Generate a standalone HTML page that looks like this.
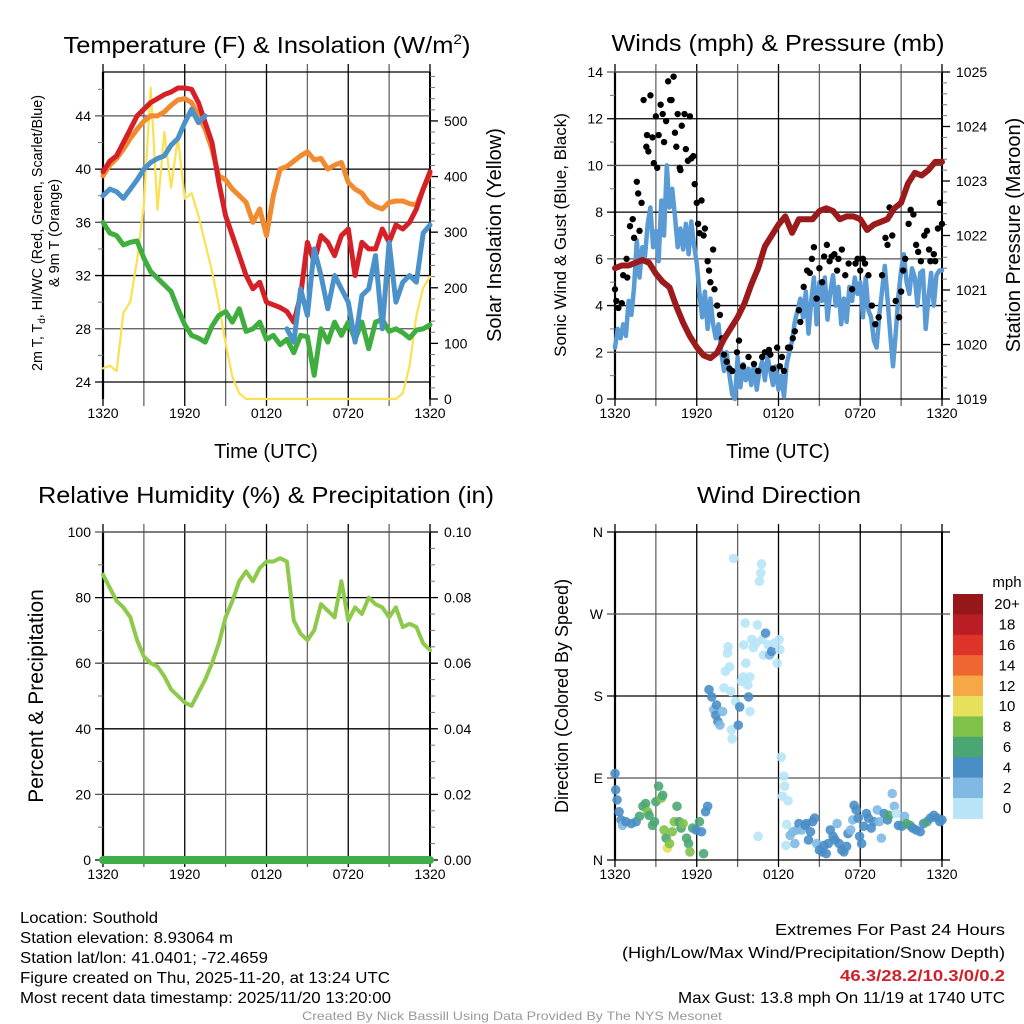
<!DOCTYPE html>
<html><head><meta charset="utf-8"><style>
html,body{margin:0;padding:0;background:#fff;width:1024px;height:1024px;overflow:hidden}
svg{display:block;font-family:"Liberation Sans",sans-serif}
</style></head><body>
<svg id="c" width="1024" height="1024" viewBox="0 0 1024 1024">
<g id="texts" fill="#000">
<text x="267" y="53" font-size="23" text-anchor="middle" textLength="407" lengthAdjust="spacingAndGlyphs">Temperature (F) &amp; Insolation (W/m<tspan font-size="14" dy="-9">2</tspan><tspan dy="9">)</tspan></text>
<text x="778" y="45" font-size="23" text-anchor="middle" dominant-baseline="middle" textLength="333" lengthAdjust="spacingAndGlyphs">Winds (mph) &amp; Pressure (mb)</text>
<text x="266" y="497" font-size="23" text-anchor="middle" dominant-baseline="middle" textLength="456" lengthAdjust="spacingAndGlyphs">Relative Humidity (%) &amp; Precipitation (in)</text>
<text x="779" y="497" font-size="23" text-anchor="middle" dominant-baseline="middle" textLength="164" lengthAdjust="spacingAndGlyphs">Wind Direction</text>
<text x="266" y="458" font-size="20" text-anchor="middle">Time (UTC)</text>
<text x="778" y="458" font-size="20" text-anchor="middle">Time (UTC)</text>
<text transform="translate(42,233) rotate(-90)" font-size="14.5" text-anchor="middle" textLength="276" lengthAdjust="spacingAndGlyphs">2m T, T<tspan font-size="10" dy="3">d</tspan><tspan dy="-3">, HI/WC (Red, Green, Scarlet/Blue)</tspan></text>
<text transform="translate(59,233) rotate(-90)" font-size="14.5" text-anchor="middle">&amp; 9m T (Orange)</text>
<text transform="translate(501,235) rotate(-90)" font-size="20" text-anchor="middle">Solar Insolation (Yellow)</text>
<text transform="translate(566,235) rotate(-90)" font-size="17" text-anchor="middle">Sonic Wind &amp; Gust (Blue, Black)</text>
<text transform="translate(1020,235) rotate(-90)" font-size="20" text-anchor="middle">Station Pressure (Maroon)</text>
<text transform="translate(43,696) rotate(-90)" font-size="21" text-anchor="middle">Percent &amp; Precipitation</text>
<text transform="translate(568,696) rotate(-90)" font-size="18" text-anchor="middle">Direction (Colored By Speed)</text>
<text x="20" y="923" font-size="16" textLength="138" lengthAdjust="spacingAndGlyphs">Location: Southold</text>
<text x="20" y="943" font-size="16" textLength="213" lengthAdjust="spacingAndGlyphs">Station elevation: 8.93064 m</text>
<text x="20" y="963" font-size="16" textLength="248" lengthAdjust="spacingAndGlyphs">Station lat/lon: 41.0401; -72.4659</text>
<text x="20" y="983" font-size="16" textLength="370" lengthAdjust="spacingAndGlyphs">Figure created on Thu, 2025-11-20, at 13:24 UTC</text>
<text x="20" y="1003" font-size="16" textLength="371" lengthAdjust="spacingAndGlyphs">Most recent data timestamp: 2025/11/20 13:20:00</text>
<text x="1005" y="935" font-size="16" text-anchor="end" textLength="230" lengthAdjust="spacingAndGlyphs">Extremes For Past 24 Hours</text>
<text x="1005" y="958" font-size="16" text-anchor="end" textLength="383" lengthAdjust="spacingAndGlyphs">(High/Low/Max Wind/Precipitation/Snow Depth)</text>
<text x="1005" y="981" font-size="16" font-weight="bold" fill="#d0202a" text-anchor="end" textLength="165" lengthAdjust="spacingAndGlyphs">46.3/28.2/10.3/0/0.2</text>
<text x="1005" y="1003" font-size="16" text-anchor="end" textLength="327" lengthAdjust="spacingAndGlyphs">Max Gust: 13.8 mph On 11/19 at 1740 UTC</text>
<text x="512" y="1020" font-size="12" fill="#999" text-anchor="middle" textLength="420" lengthAdjust="spacingAndGlyphs">Created By Nick Bassill Using Data Provided By The NYS Mesonet</text>
</g>
</svg>
<script>
// ---- data ----
const halfHours = Array.from({length:49},(_, i)=>i*0.5);
const xTickLabels = ["1320","1920","0120","0720","1320"];
const tempRed = [39.8,40.6,41,42,43,44,44.5,45,45.3,45.6,45.8,46.1,46.1,46,45,43.5,42,39,36.5,35,33.5,32,31,31.5,30,29.8,29.6,29.3,28.5,30.5,34.5,33,35,34.5,33.5,35,35.5,32,34.5,34,34,35.5,34.5,35.8,35.5,36,37,38.5,39.8];
const tempOrange = [39.5,40.3,40.8,41.5,42.3,43,43.6,44,44,44.3,44.8,45.2,45.3,45,44,43,41.5,39.5,39.2,38.5,38,37.5,36,37,35,38,40,40.2,40.6,41,41.3,40.7,40.8,40,40.3,40.5,39,38.5,38.2,37.5,37.2,37,37.5,37.6,37.6,37.4,37.3,38.5,39.6];
const tempBlue = [38,38.5,38.3,37.8,38.5,39.2,40,40.5,40.8,41,41.8,42.3,43.5,44.5,43.5,44,null,null,null,null,null,null,null,null,null,null,null,28,27,31,29,34,32,29.5,32,31,30,27,30.5,31,33.5,28,34.5,30,31.5,32,31.5,35.2,35.8];
const tempGreen = [36,35.2,35,34.3,34.5,34.6,33.3,32.3,31.8,31.3,30.8,29.5,28.3,27.5,27.3,27,28.2,29,29.3,28.5,29.5,27.8,28,28.5,27.2,27.5,26.8,27.2,26.2,27.5,27.4,24.5,28,27,28.5,27.5,28.5,27.2,28.5,26.5,28.5,28.7,27.8,28,27.7,27.3,27.9,28,28.3];
const solar = [55,60,50,155,175,250,350,560,340,480,380,470,360,370,330,280,230,170,100,40,10,0,0,0,0,0,0,0,0,0,0,0,0,0,0,0,0,0,0,0,0,0,0,0,10,60,150,200,220];
const tempTicks = [24,28,32,36,40,44];
const solarTicks = [0,100,200,300,400,500];

const windTimes = [0,0.2,0.4,0.6,0.8,1,1.2,1.4,1.6,1.8,2,2.2,2.4,2.6,2.8,3,3.2,3.4,3.6,3.8,4,4.2,4.4,4.6,4.8,5,5.2,5.4,5.6,5.8,6,6.2,6.4,6.6,6.8,7,7.2,7.4,7.6,7.8,8,8.2,8.4,8.6,8.8,9,9.2,9.4,9.6,9.8,10,10.2,10.4,10.6,10.8,11,11.2,11.4,11.6,11.8,12,12.2,12.4,12.6,12.8,13,13.2,13.4,13.6,13.8,14,14.2,14.4,14.6,14.8,15,15.2,15.4,15.6,15.8,16,16.2,16.4,16.6,16.8,17,17.2,17.4,17.6,17.8,18,18.2,18.4,18.6,18.8,19,19.2,19.4,19.6,19.8,20,20.2,20.4,20.6,20.8,21,21.2,21.4,21.6,21.8,22,22.2,22.4,22.6,22.8,23,23.2,23.4,23.6,23.8,24];
const windSpeed = [2.2,3,2.6,3.2,2.7,4.2,3.6,4.8,6.8,5.2,6.5,6.1,7.5,8.2,6.5,7.2,5.9,8.5,7,10,8.2,9,7.8,6.5,7.3,6.4,7.5,6.2,7.6,6.6,5.8,4.5,3.5,4.6,3,4.3,3.2,2.6,3.2,2,1.2,2,1,0.2,0,1.8,0.5,1.5,0.8,1.3,0.6,1.5,0.4,1.2,1.6,0.8,1.8,1.2,0.6,1.4,0.4,1,0.1,1.5,2,2.5,3.3,3.8,4.3,3.5,4.6,2.8,4.2,5.2,3.2,5,4.2,5.2,3.4,4.6,5.3,4,4.8,3.2,4.3,3.3,4.8,4.2,5.2,4.5,5,3.5,5.2,3.8,3.5,2.5,2.2,3.6,4.6,5.7,4.3,2.8,1.4,2.8,4.4,5.5,6.2,5,4.5,5.6,5.2,4,5.4,5.5,3,4.3,5.4,4,5.3,5.5,5.5];
const gustTimes = [0,0.1,0.25,0.5,0.6,0.85,0.9,1.1,1.3,1.4,1.6,1.7,1.8,1.95,2.1,2.3,2.35,2.45,2.6,2.75,2.85,3,3.1,3.2,3.35,3.5,3.6,3.75,3.9,4.05,4.15,4.3,4.4,4.5,4.6,4.75,4.8,4.9,5.1,5.2,5.35,5.5,5.6,5.75,5.85,6,6.1,6.2,6.35,6.5,6.6,6.8,6.9,7,7.2,7.3,7.5,7.7,7.85,8,8.2,8.4,8.6,8.95,9.1,9.4,9.8,10.2,10.5,10.8,11,11.3,11.4,11.6,11.9,12.1,12.25,12.4,12.7,12.85,13.05,13.2,13.5,13.6,13.85,14.1,14.3,14.45,14.6,14.8,15,15.2,15.35,15.55,15.75,15.9,16.1,16.3,16.4,16.65,16.9,17.15,17.4,17.65,17.8,18,18.2,18.35,18.6,18.85,19.1,19.35,19.6,19.85,20,20.15,20.35,20.6,20.85,21,21.15,21.3,21.55,21.7,21.9,22.1,22.25,22.45,22.7,22.9,23.05,23.15,23.4,23.5,23.7,23.85,24];
const gustSpeed = [4.7,4.2,3.9,4.1,5.3,6,5.2,7.4,7.7,6.9,9.3,8.8,7.2,8.4,12.8,10.8,11.3,10.6,13,11.2,10.1,12.1,9.9,11.3,12.6,12.2,11,11.9,13.6,12.8,12.8,13.8,11.4,10.8,12.2,9.9,9.8,11.7,12.2,10.7,10.2,12.1,10.3,10.4,9.2,8.4,7.5,7.1,8.5,7,7.3,5.9,5.5,5,6.4,4.7,4,3.6,2.6,1.9,1.6,1.3,1.2,2,2.5,1.4,1.8,1.5,1.2,1.8,2,2.1,1.9,1.3,2.2,1.4,1.8,1.2,2.2,2.2,2.6,2.9,3.8,3.3,4.8,5.5,5.4,6,6.5,4.3,5.6,5,6.1,6.6,5.9,6.1,6.2,5.5,6,6.4,5.3,5.8,4.7,5.8,6,5.5,6,5.8,5.3,4,3.2,3.5,5.3,6.9,6.6,8.2,7,4.2,3.5,4.6,5.5,6,7.5,8.1,7.9,6.6,6.3,5.9,7,7.2,6.4,5.9,6.2,5.9,7.3,8.4,7.5];
const pressure = [1021.4,1021.45,1021.45,1021.5,1021.55,1021.5,1021.3,1021.15,1021.05,1020.7,1020.4,1020.15,1019.95,1019.8,1019.75,1019.85,1020.1,1020.3,1020.5,1020.75,1021.1,1021.4,1021.8,1022,1022.2,1022.35,1022.05,1022.3,1022.3,1022.3,1022.45,1022.5,1022.45,1022.3,1022.35,1022.35,1022.3,1022.1,1022.2,1022.25,1022.3,1022.5,1022.6,1022.95,1023.15,1023.1,1023.2,1023.35,1023.35];
const windTicks = [0,2,4,6,8,10,12,14];
const pressureTicks = [1019,1020,1021,1022,1023,1024,1025];

const rh = [87,83,79,77,74,67,62,60,59,56,52,50,48,47,51,55,60,66,74,79,85,88,85,89,91,91,92,91,73,69,67,70,78,76,74,85,73,77,75,80,78,77,74,77,71,72,71,66,64];
const precip = [0,0,0,0,0,0,0,0,0,0,0,0,0,0,0,0,0,0,0,0,0,0,0,0,0,0,0,0,0,0,0,0,0,0,0,0,0,0,0,0,0,0,0,0,0,0,0,0,0];
const rhTicks = [0,20,40,60,80,100];
const precipTicks = ["0.00","0.02","0.04","0.06","0.08","0.10"];

const dirTimes = [0,0.05,0.15,0.3,0.45,0.55,0.8,1.2,1.55,1.8,2.05,2.25,2.4,2.5,2.75,2.9,3,3.2,3.4,3.5,3.6,3.75,3.85,4,4.2,4.35,4.55,4.7,4.85,5,5.25,5.4,5.5,5.7,5.95,6.2,6.35,6.5,6.65,6.8,6.9,7.1,7.25,7.4,7.45,7.55,7.7,7.9,8,8.1,8.25,8.3,8.4,8.5,8.55,8.6,8.7,8.85,9.05,9.15,9.3,9.4,9.45,9.55,9.6,9.75,9.8,9.9,9.9,10.05,10.15,10.35,10.45,10.5,10.6,10.7,10.75,10.8,10.9,11.05,11.25,11.35,11.5,11.7,11.9,12.05,12.1,12.2,12.4,12.45,12.3,12.7,12.6,12.55,12.85,13.05,13.2,13.35,13.5,13.7,13.95,14.05,14.2,14.35,14.5,14.65,14.8,15,15.2,15.35,15.5,15.65,15.8,16,16.15,16.3,16.45,16.65,16.8,17,17.1,17.3,17.45,17.55,17.7,17.85,17.95,18.1,18.25,18.45,18.6,18.8,19,19.25,19.4,19.55,19.75,20,20.1,20.35,20.5,20.65,20.8,21.05,21.25,21.4,21.65,21.85,22.1,22.4,22.65,22.9,23.15,23.4,23.65,23.85,24];
const dirDegrees = [95,77,66,53,44,38,42,40,42,48,59,62,53,49,38,42,64,81,68,71,33,24,13,18,31,42,59,42,35,40,24,18,9,35,33,42,31,7,53,59,187,179,165,159,170,152,148,163,189,207,227,234,212,185,143,133,331,174,148,168,196,201,236,260,216,192,179,201,163,242,233,238,258,26,306,315,325,242,225,249,236,225,229,238,216,242,231,113,92,81,70,65,39,16,27,31,18,33,40,33,38,40,22,31,42,46,18,11,9,16,7,18,33,26,22,40,18,11,9,15,29,33,44,60,55,46,26,18,37,51,46,35,42,55,42,24,51,44,49,73,59,51,38,37,48,40,38,35,33,31,40,42,46,49,46,42,44];
const dirSpeeds = [5,5,5,5,5,3,5,5,5,7,7,7,9,7,7,7,7,7,9,7,9,7,11,9,9,9,7,7,7,9,7,7,9,7,5,7,5,7,5,5,5,5,3,5,5,5,3,3,1,1,1,1,1,1,1,1,1,1,5,5,1,1,1,1,1,1,5,1,1,1,1,1,1,1,1,1,1,1,1,5,1,3,5,1,1,1,1,1,1,1,1,1,1,1,3,3,3,3,5,3,5,5,5,5,5,5,3,5,5,5,5,5,5,5,5,3,5,5,5,5,5,3,3,5,5,5,5,5,5,5,5,5,5,3,3,3,5,5,7,3,3,1,5,5,3,7,7,5,5,5,5,7,5,5,5,5,5];
const dirTickLabels = ["N","E","S","W","N"];
const speedBinLabels = ["0","2","4","6","8","10","12","14","16","18","20+"];
const speedBinColors = ["#b7e4f7","#7fb9e4","#4a8ec8","#4aa774","#7fc24a","#e6e05a","#f5a847","#ef6630","#de3329","#bb1d24","#961719"];

// ---- drawing ----
const svg = document.getElementById('c');
const NS = 'http://www.w3.org/2000/svg';
function mk(tag, attrs, parent){const e=document.createElementNS(NS,tag);for(const k in attrs)e.setAttribute(k,attrs[k]);(parent||svg).appendChild(e);return e;}
function lin(d0,d1,r0,r1){return v=>r0+(v-d0)/(d1-d0)*(r1-r0);}

function frame(P, name){
  const g = mk('g',{});
  
  
  const xs = lin(0,24,P.x0,P.x1);
  for(let h=0;h<=24;h+=3){
    const x=xs(h);
    const l = mk('line',{x1:x,x2:x,y1:P.y0-8,y2:P.y1+7,stroke:(h%6===0)?'#000':'#666','stroke-width':1.3},g);
    
    
  }
  xTickLabels.forEach((t,i)=>{
    const tx = mk('text',{x:xs(i*6),y:P.y1+19,'font-size':14,'text-anchor':'middle'},g);
    tx.textContent=t;
    
    
  });
  mk('line',{x1:P.x0,x2:P.x0,y1:P.y0,y2:P.y1,stroke:'#000','stroke-width':2.2},g);
  mk('line',{x1:P.x1,x2:P.x1,y1:P.y0,y2:P.y1,stroke:'#000','stroke-width':2},g);
  mk('line',{x1:P.x0,x2:P.x1,y1:P.y0,y2:P.y0,stroke:'#000','stroke-width':1.3},g);
  return {xs,g};
}
function leftAxis(P,g,ys,ticks,labels,minor,extR){
  minor.forEach(v=>mk('line',{x1:P.x0-5,x2:P.x0,y1:ys(v),y2:ys(v),stroke:'#777','stroke-width':1},g));
  ticks.forEach((v,i)=>{
    const y=ys(v);
    const l=mk('line',{x1:P.x0-8,x2:P.x1+(extR||0),y1:y,y2:y,stroke:(i%2)?'#555':'#000','stroke-width':1.3},g);
    
    
    const t=mk('text',{x:P.x0-12,y:y+5,'font-size':14,'text-anchor':'end'},g);
    t.textContent=labels?labels[i]:v;
    
    
  });
}
function rightAxis(P,g,ys,ticks,labels,minor){
  minor.forEach(v=>mk('line',{x1:P.x1,x2:P.x1+5,y1:ys(v),y2:ys(v),stroke:'#777','stroke-width':1},g));
  ticks.forEach((v,i)=>{
    const y=ys(v);
    mk('line',{x1:P.x1,x2:P.x1+8,y1:y,y2:y,stroke:'#000','stroke-width':1.3},g);
    const t=mk('text',{x:P.x1+14,y:y+5,'font-size':14,'text-anchor':'start'},g);
    t.textContent=labels?labels[i]:v;
    
    
  });
}
function path(xsArr, ys_, xs, vals, color, w, name, clip){
  let d='',pen=false;
  vals.forEach((v,i)=>{
    if(v===null||v===undefined){pen=false;return;}
    d+=(pen?'L':'M')+xs(xsArr[i]).toFixed(1)+','+ys_(v).toFixed(1);pen=true;
  });
  const p=mk('path',{d,fill:'none',stroke:color,'stroke-width':w,'stroke-linejoin':'round','stroke-linecap':'round'});
  if(clip)p.setAttribute('clip-path',clip);
  
  
  return p;
}
function minors(a,b,s){const r=[];for(let v=a;v<=b+1e-9;v+=s)r.push(+v.toFixed(4));return r;}
function addClip(id,P){const cp=mk('clipPath',{id});mk('rect',{x:P.x0-3,y:P.y0-3,width:P.x1-P.x0+6,height:P.y1-P.y0+6},cp);}

// Panel 1: temperature
const P1={x0:103,x1:430,y0:72,y1:399};
addClip('cp1',P1);
const F1=frame(P1,'temperature');
const yT=lin(22.72,47.3,P1.y1,P1.y0), yS=lin(0,588,P1.y1,P1.y0);
leftAxis(P1,F1.g,yT,tempTicks,null,minors(24,46,2));
rightAxis(P1,F1.g,yS,solarTicks,null,minors(0,580,20));
path(halfHours,yS,F1.xs,solar,'#fbe150',2.2,'solar-insolation-line','url(#cp1)');
path(halfHours,yT,F1.xs,tempGreen,'#3fae3f',5,'dewpoint-line','url(#cp1)');
path(halfHours,yT,F1.xs,tempOrange,'#f28a30',5,'temp-9m-line','url(#cp1)');
path(halfHours,yT,F1.xs,tempRed,'#d62027',5,'temp-2m-line','url(#cp1)');
path(halfHours,yT,F1.xs,tempBlue,'#4b92cb',5,'windchill-line','url(#cp1)');

// Panel 2: winds
const P2={x0:615,x1:942,y0:72,y1:399};
addClip('cp2',P2);
const F2=frame(P2,'winds');
const yW=lin(0,14,P2.y1,P2.y0), yP=lin(1019,1025,P2.y1,P2.y0);
leftAxis(P2,F2.g,yW,windTicks,null,minors(0,14,1));
rightAxis(P2,F2.g,yP,pressureTicks,null,minors(1019,1025,0.2));
path(windTimes,yW,F2.xs,windSpeed,'#5b9bd5',4.5,'sonic-wind-line','url(#cp2)');
gustTimes.forEach((t,i)=>{
  const c=mk('circle',{cx:F2.xs(t),cy:yW(gustSpeed[i]),r:3.2,fill:'#000'});
  
  
});
path(halfHours,yP,F2.xs,pressure,'#9b1a1c',6,'station-pressure-line','url(#cp2)');

// Panel 3: humidity
const P3={x0:103,x1:430,y0:532,y1:860};
const F3=frame(P3,'humidity');
const yR=lin(0,100,P3.y1,P3.y0), yPr=lin(0,0.1,P3.y1,P3.y0);
leftAxis(P3,F3.g,yR,rhTicks,null,minors(0,100,10));
rightAxis(P3,F3.g,yR,rhTicks,precipTicks,minors(0,100,5));
path(halfHours,yR,F3.xs,rh,'#8dc94a',4,'relative-humidity-line');
path(halfHours,yPr,F3.xs,precip,'#3fae49',8,'precipitation-line');

// Panel 4: wind direction
const P4={x0:615,x1:942,y0:532,y1:860};
const F4=frame(P4,'wind-direction');
const yD=lin(0,360,P4.y1,P4.y0);
leftAxis(P4,F4.g,yD,[0,90,180,270,360],dirTickLabels,[],8);
dirTimes.forEach((t,i)=>{
  const bin=Math.min(10,Math.floor(dirSpeeds[i]/2));
  const c=mk('circle',{cx:F4.xs(t),cy:yD(dirDegrees[i]),r:4.8,fill:speedBinColors[bin],'fill-opacity':0.9});
  
  
});
// colorbar
const cb=mk('g',{});


const cbTop=594, cbH=20.4;
const ct=mk('text',{x:1007,y:cbTop-7,'font-size':15,'text-anchor':'middle'},cb);
ct.textContent='mph';


speedBinLabels.forEach((lab,i)=>{
  const k=speedBinLabels.length-1-i;
  const y=cbTop+i*cbH;
  const r=mk('rect',{x:953,y:y,width:30,height:cbH+0.5,fill:speedBinColors[k]},cb);
  
  
  const t=mk('text',{x:1007,y:y+cbH/2+5,'font-size':15,'text-anchor':'middle'},cb);
  t.textContent=speedBinLabels[k];
  
  
});
</script>
</body></html>
